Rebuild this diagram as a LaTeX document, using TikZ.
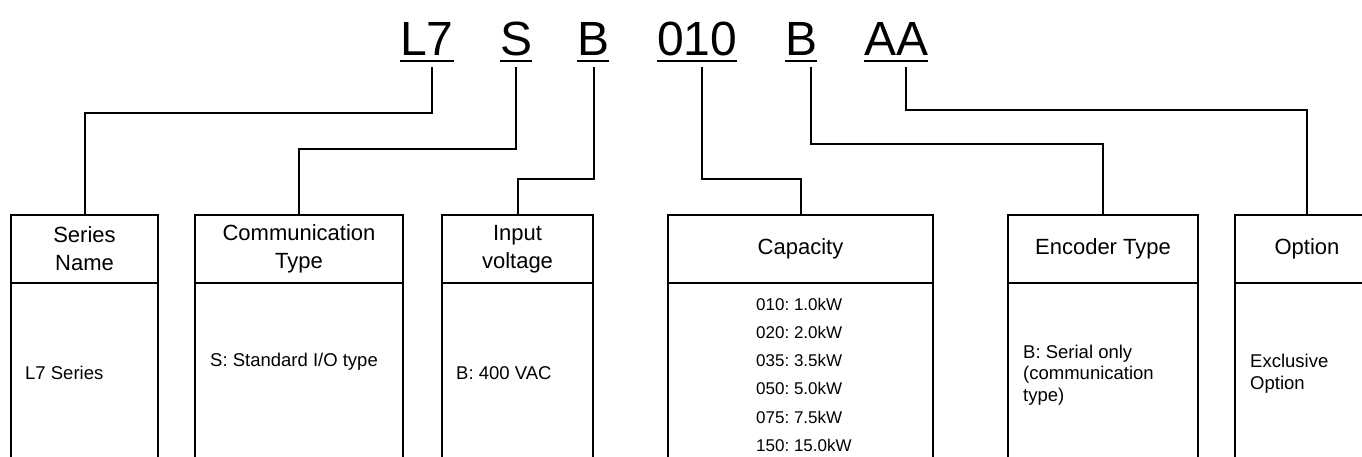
\documentclass[tikz,border=0pt]{standalone}
\usepackage{fontspec}
\setmainfont{Liberation Sans}
\frenchspacing
\begin{document}
\begin{tikzpicture}[x=1pt,y=-1pt,
  code/.style={inner sep=0pt,anchor=base west,font=\fontsize{48}{50}\selectfont},
  uline/.style={line width=2.8pt},
  conn/.style={line width=2pt},
  head/.style={draw,line width=2pt,outer sep=0pt,anchor=north west,minimum height=68pt,inner sep=0pt,align=center,font=\fontsize{22}{28}\selectfont},
  body/.style={draw,line width=2pt,outer sep=0pt,anchor=north west,minimum height=200pt,inner sep=0pt},
  btext/.style={inner sep=0pt,anchor=base west,align=left,font=\fontsize{18.5}{21.5}\selectfont},
  mtext/.style={inner sep=0pt,anchor=north west,align=left,font=\fontsize{18.5}{21.5}\selectfont}]
\useasboundingbox (0,0) rectangle (1362,456);
\clip (0,0) rectangle (1362,456);
% code letters
\node[code] (c1) at (400,55) {L7};
\node[code] (c2) at (500,55) {S};
\node[code] (c3) at (577,55) {B};
\node[code] (c4) at (657,55) {010};
\node[code] (c5) at (785,55) {B};
\node[code] (c6) at (864,55) {AA};
\foreach \c in {c1,c2,c3,c4,c5,c6}
  \draw[uline] ([yshift=-6pt]\c.base west) -- ([yshift=-6pt]\c.base east);
% stem tops
\coordinate (s1) at (432,67);
\coordinate (s2) at (516,67);
\coordinate (s3) at (594,67);
\coordinate (s4) at (702,67);
\coordinate (s5) at (811,67);
\coordinate (s6) at (906,67);
% header boxes
\node[head,minimum width=147pt] (h1) at (11,215) {Series\\Name};
\node[head,minimum width=208pt] (h2) at (195,215) {Communication\\Type};
\node[head,minimum width=151pt] (h3) at (442,215) {Input\\voltage};
\node[head,minimum width=265pt] (h4) at (668,215) {Capacity};
\node[head,minimum width=190pt] (h5) at (1008,215) {Encoder Type};
\node[head,minimum width=144pt] (h6) at (1235,215) {Option};
% body boxes
\node[body,minimum width=147pt] (b1) at (h1.south west) {};
\node[body,minimum width=208pt] (b2) at (h2.south west) {};
\node[body,minimum width=151pt] (b3) at (h3.south west) {};
\node[body,minimum width=265pt] (b4) at (h4.south west) {};
\node[body,minimum width=190pt] (b5) at (h5.south west) {};
\node[body,minimum width=144pt] (b6) at (h6.south west) {};
% body texts
\node[btext] (t1) at (25,379) {L7 Series};
\node[btext] (t2) at (210,366) {S: Standard I/O type};
\node[btext] (t3) at (456,379) {B: 400 VAC};
\node[mtext,font=\fontsize{17}{28.2}\selectfont] (t4) at (756,297.8) {010: 1.0kW\\020: 2.0kW\\035: 3.5kW\\050: 5.0kW\\075: 7.5kW\\150: 15.0kW};
\node[mtext] (t5) at (1023,344.5) {B: Serial only\\(communication\\type)};
\node[mtext,font=\fontsize{18.5}{22.5}\selectfont] (t6) at (1250,353.5) {Exclusive\\Option};
% connectors
\draw[conn] (s1) -- ++(0,46) -| (h1.north);
\draw[conn] (s2) -- ++(0,82) -| (h2.north);
\draw[conn] (s3) -- ++(0,112) -| (h3.north);
\draw[conn] (s4) -- ++(0,112) -| (h4.north);
\draw[conn] (s5) -- ++(0,77) -| (h5.north);
\draw[conn] (s6) -- ++(0,43) -| (h6.north);
\end{tikzpicture}
\end{document}
